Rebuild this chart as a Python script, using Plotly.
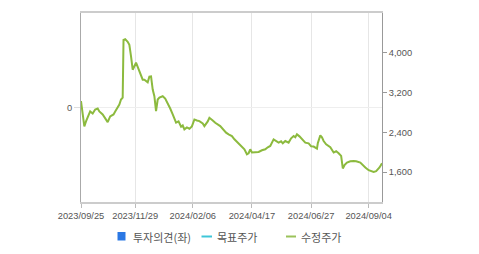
import plotly.graph_objects as go

dates = [
    "2023-09-25", "2023-09-27", "2023-09-29", "2023-10-01", "2023-10-04", "2023-10-06",
    "2023-10-09", "2023-10-12", "2023-10-15", "2023-10-17", "2023-10-21", "2023-10-24",
    "2023-10-27", "2023-10-30", "2023-11-03", "2023-11-05", "2023-11-10", "2023-11-12",
    "2023-11-14", "2023-11-15", "2023-11-17", "2023-11-20", "2023-11-22", "2023-11-24",
    "2023-11-26", "2023-11-30", "2023-12-02", "2023-12-04", "2023-12-08", "2023-12-10",
    "2023-12-14", "2023-12-16", "2023-12-18", "2023-12-20", "2023-12-22", "2023-12-24",
    "2023-12-25", "2023-12-26", "2023-12-28", "2024-01-01", "2024-01-04", "2024-01-07",
    "2024-01-10", "2024-01-13", "2024-01-15", "2024-01-17", "2024-01-20", "2024-01-23",
    "2024-01-25", "2024-01-27", "2024-01-30", "2024-02-02", "2024-02-05", "2024-02-08",
    "2024-02-11", "2024-02-14", "2024-02-18", "2024-02-20", "2024-02-24", "2024-02-26",
    "2024-03-01", "2024-03-04", "2024-03-10", "2024-03-13", "2024-03-17", "2024-03-20",
    "2024-03-24", "2024-03-27", "2024-03-31", "2024-04-04", "2024-04-06", "2024-04-08",
    "2024-04-11", "2024-04-13", "2024-04-15", "2024-04-17", "2024-04-21", "2024-04-25",
    "2024-04-29", "2024-05-03", "2024-05-06", "2024-05-09", "2024-05-13", "2024-05-16",
    "2024-05-19", "2024-05-22", "2024-05-24", "2024-05-27", "2024-05-31", "2024-06-03",
    "2024-06-06", "2024-06-08", "2024-06-10", "2024-06-13", "2024-06-16", "2024-06-20",
    "2024-06-24", "2024-06-27", "2024-06-30", "2024-07-04", "2024-07-05", "2024-07-08",
    "2024-07-10", "2024-07-12", "2024-07-15", "2024-07-18", "2024-07-20", "2024-07-24",
    "2024-07-27", "2024-07-30", "2024-08-02", "2024-08-04", "2024-08-06", "2024-08-09",
    "2024-08-13", "2024-08-17", "2024-08-20", "2024-08-25", "2024-08-29", "2024-08-31",
    "2024-09-04", "2024-09-06", "2024-09-10", "2024-09-13", "2024-09-17", "2024-09-20",
]

adj_price = [
    3030, 2820, 2520, 2620, 2740, 2820,
    2780, 2860, 2880, 2820, 2760, 2680,
    2606, 2720, 2760, 2820, 2960, 3060,
    3100, 4260, 4274, 4220, 4160, 3926,
    3660, 3800, 3720, 3626, 3460, 3460,
    3406, 3520, 3526, 3260, 3126, 2826,
    3020, 3060, 3100, 3126, 3080, 2994,
    2880, 2760, 2680, 2594, 2620, 2514,
    2540, 2460, 2500, 2474, 2520, 2660,
    2640, 2626, 2580, 2526, 2620, 2694,
    2640, 2594, 2526, 2460, 2394, 2360,
    2326, 2260, 2194, 2140, 2094, 2060,
    1960, 1980, 2060, 1994, 2000, 2006,
    2040, 2060, 2100, 2126, 2260, 2220,
    2194, 2220, 2180, 2226, 2194, 2280,
    2326, 2300, 2360, 2320, 2260, 2194,
    2180, 2120, 2114, 2074, 2180, 2340,
    2300, 2226, 2160, 2126, 2100, 1994,
    2020, 1980, 1926, 1674, 1740, 1794,
    1820, 1826, 1820, 1794, 1740, 1694,
    1640, 1626, 1606, 1620, 1694, 1780,
]

x_tick_dates = ["2023-09-25", "2023-11-29", "2024-02-06", "2024-04-17", "2024-06-27", "2024-09-04"]
x_tick_labels = ["2023/09/25", "2023/11/29", "2024/02/06", "2024/04/17", "2024/06/27", "2024/09/04"]
left_ticks = [0]
left_tick_labels = ["0"]
right_ticks = [1600, 2400, 3200, 4000]
right_tick_labels = ["1,600", "2,400", "3,200", "4,000"]
legend_labels = ["투자의견(좌)", "목표주가", "수정주가"]
legend_colors = ["#2b78e4", "#3fc6d8", "#9bc25a"]

fig = go.Figure()
# opinion series (left axis) has no values in this period
fig.add_trace(go.Bar(x=[dates[0]], y=[None], yaxis="y", marker_color=legend_colors[0],
                     name=legend_labels[0], showlegend=False, hoverinfo="skip"))
fig.add_trace(go.Scatter(
    x=dates, y=adj_price, yaxis="y2", mode="lines",
    line=dict(color="#8cba3e", width=2), name=legend_labels[2], showlegend=False,
    hoverinfo="skip",
))

tick_font = dict(family="Liberation Sans, Arial, sans-serif", size=9.3, color="#555555")

fig.update_layout(
    width=479, height=254,
    margin=dict(l=81, r=97, t=13, b=52),
    paper_bgcolor="white", plot_bgcolor="white",
    showlegend=False,
    xaxis=dict(
        type="date", range=["2023-09-25", "2024-09-20"],
        tickvals=x_tick_dates, ticktext=x_tick_labels,
        showgrid=True, gridcolor="#e6e6e6", gridwidth=1,
        showline=True, linecolor="#cccccc", linewidth=2, mirror=True,
        ticks="outside", ticklen=4, tickcolor="#bbbbbb",
        tickfont=tick_font, zeroline=False,
    ),
    yaxis=dict(
        type="linear", range=[-1, 1], tickmode="array",
        tickvals=left_ticks, ticktext=left_tick_labels,
        showgrid=True, gridcolor="#eeeeee",
        showline=True, linecolor="#aaaaaa", linewidth=1,
        ticks="outside", ticklen=6, tickcolor="#dddddd",
        tickfont=tick_font, zeroline=False, fixedrange=True,
    ),
    yaxis2=dict(
        type="linear", overlaying="y", side="right", range=[1000, 4800],
        tickmode="array", tickvals=right_ticks, ticktext=right_tick_labels,
        showgrid=False, showline=True, linecolor="#999999", linewidth=1,
        ticks="outside", ticklen=4, tickcolor="#999999",
        tickfont=tick_font, zeroline=False,
    ),
)

# manual legend (paper coords: plot area 301 x 189 px, origin at (81, 202))
def px(x):
    return (x - 81) / 301

def py(y):
    return (202 - y) / 189

leg_y = 236.5
fig.add_shape(type="rect", xref="paper", yref="paper",
              x0=px(117.5), x1=px(125.5), y0=py(240.5), y1=py(232),
              fillcolor=legend_colors[0], line=dict(width=0))
for xs, col in [((201.5, 212), legend_colors[1]), ((286, 296), legend_colors[2])]:
    fig.add_shape(type="line", xref="paper", yref="paper",
                  x0=px(xs[0]), x1=px(xs[1]), y0=py(leg_y), y1=py(leg_y),
                  line=dict(color=col, width=2))
legend_x = [131, 215, 298.5]
for lx, txt in zip(legend_x, legend_labels):
    fig.add_annotation(x=px(lx), y=py(leg_y), xref="paper", yref="paper",
                       text=txt, showarrow=False, xanchor="left", yanchor="middle",
                       font=dict(family="Noto Sans CJK KR", size=11, color="#555555"))

fig.write_html("out.html")
